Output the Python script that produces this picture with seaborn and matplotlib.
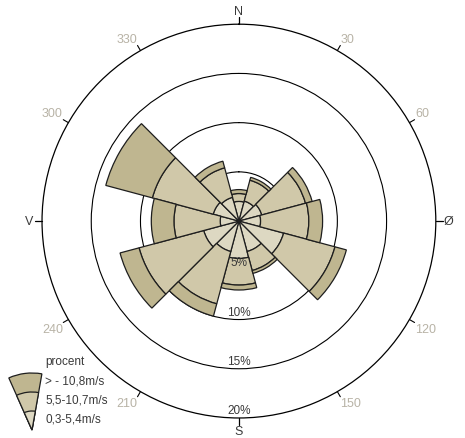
import numpy as np
import matplotlib
matplotlib.use("Agg")
import matplotlib.pyplot as plt
from matplotlib.patches import Wedge
import seaborn as sns

## Data (percent of time per direction, per wind speed class)
directions = [0, 30, 60, 90, 120, 150, 180, 210, 240, 270, 300, 330]
low_speed = [2.0, 2.1, 2.4, 2.2, 4.7, 3.2, 3.8, 3.2, 3.7, 1.9, 2.7, 2.5]     # 0,3-5,4m/s
mid_speed = [0.8, 2.2, 4.6, 4.9, 5.4, 2.0, 2.7, 5.5, 6.8, 4.7, 6.4, 3.1]     # 5,5-10,7m/s
high_speed = [0.4, 0.3, 0.7, 1.4, 1.2, 0.3, 0.5, 1.3, 2.0, 2.3, 4.9, 0.7]    # > - 10,8m/s
class_labels = ["> - 10,8m/s", "5,5-10,7m/s", "0,3-5,4m/s"]
ring_values = [5, 10, 15, 20]
cardinal_angles = [0, 90, 180, 270]
cardinal_labels = ["N", "Ø", "S", "V"]
degree_angles = [30, 60, 120, 150, 210, 240, 300, 330]

sns.set_theme(style="white")
plt.rcParams['font.family'] = ['Liberation Sans', 'DejaVu Sans']

colors = sns.color_palette(["#ddd8c2", "#d0c8a9", "#bfb690"])
edge = "#1e1e1e"
txt = "#3a3a3a"
grey = "#b8b3a6"

fig = plt.figure(figsize=(4.65, 4.39), dpi=100)
ax = fig.add_axes([0.0903, 0.0456, 0.847, 0.897], projection="polar")
ax.set_theta_zero_location("N")
ax.set_theta_direction(-1)
ax.set_ylim(0, 20)

theta = np.deg2rad(directions)
width = np.deg2rad(30)
low = np.array(low_speed)
mid = np.array(mid_speed)
high = np.array(high_speed)
ax.bar(theta, low, width=width, color=colors[0], edgecolor=edge, linewidth=0.9, zorder=3)
ax.bar(theta, mid, width=width, bottom=low, color=colors[1], edgecolor=edge, linewidth=0.9, zorder=3)
ax.bar(theta, high, width=width, bottom=low + mid, color=colors[2], edgecolor=edge, linewidth=0.9, zorder=3)

# rings
ax.set_xticks([])
ax.set_yticks(ring_values[:-1])
ax.set_yticklabels([])
ax.grid(False)
ax.yaxis.grid(True, color="black", linewidth=0.8)
ax.xaxis.grid(False)
ax.spines["polar"].set_color("black")
ax.spines["polar"].set_linewidth(0.9)
for r in ring_values:
    ax.text(np.pi, r - 0.8, f"{r}%", ha="center", va="center", fontsize=8.5,
            color=txt, zorder=5)

# ticks and compass labels
for a, lab in zip(cardinal_angles, cardinal_labels):
    t = np.deg2rad(a)
    ax.plot([t, t], [20, 20.7], color="black", linewidth=0.9, clip_on=False)
    ax.text(t, 21.3, lab, ha="center", va="center", fontsize=9, color=txt)
for a in degree_angles:
    t = np.deg2rad(a)
    ax.plot([t, t], [20, 20.6], color="black", linewidth=0.8, clip_on=False)
    ha = "left" if a < 180 else "right"
    va = "bottom" if (a < 90 or a > 270) else "top"
    ax.text(t, 20.65, str(a), ha=ha, va=va, fontsize=9, color=grey)

# legend
lax = fig.add_axes([0, 0, 1, 1])
lax.set_xlim(0, 465)
lax.set_ylim(0, 439)
lax.axis("off")
lax.patch.set_visible(False)
apex = (32, 8)
for r, c in zip([57, 38, 19], [colors[2], colors[1], colors[0]]):
    lax.add_patch(Wedge(apex, r, 80, 114, facecolor=c, edgecolor=edge, linewidth=0.9))
lax.text(45, 439 - 362, "procent", ha="left", va="center", fontsize=8.5, color=txt)
for y, lab in zip([381.5, 400.5, 420], class_labels):
    lax.text(45, 439 - y, lab, ha="left", va="center", fontsize=8.5, color=txt)

fig.savefig("out.png", dpi=100)
